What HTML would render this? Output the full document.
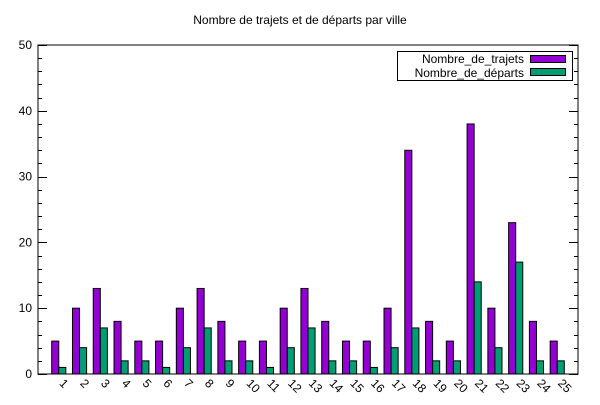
<!DOCTYPE html>
<html><head><meta charset="utf-8"><style>
body{margin:0;background:#fff}
svg text{font-family:"Liberation Sans",sans-serif;font-size:12px;fill:#000}
</style></head><body>
<svg width="600" height="400" xmlns="http://www.w3.org/2000/svg">
<text x="300" y="24" text-anchor="middle">Nombre de trajets et de départs par ville</text>
<g id="axes"></g>
<g id="bars"></g>
<rect x="38" y="45" width="540" height="329" fill="none" stroke="#000" stroke-width="1"/>
<g>
<rect x="397.5" y="51.5" width="175" height="29" fill="#fff" stroke="#000"/>
<text x="524" y="63" text-anchor="end">Nombre_de_trajets</text>
<rect x="530.5" y="55.5" width="35" height="7" fill="#9400d3" stroke="#000"/>
<text x="524" y="77" text-anchor="end">Nombre_de_départs</text>
<rect x="530.5" y="68.5" width="35" height="7" fill="#009e73" stroke="#000"/>
</g>
</svg>
<script>
const categories=["1","2","3","4","5","6","7","8","9","10","11","12","13","14","15","16","17","18","19","20","21","22","23","24","25"];
const trajets=[5,10,13,8,5,5,10,13,8,5,5,10,13,8,5,5,10,34,8,5,38,10,23,8,5];
const departs=[1,4,7,2,2,1,4,7,2,2,1,4,7,2,2,1,4,7,2,2,14,4,17,2,2];
const yTicks=[0,10,20,30,40,50];
const NS="http://www.w3.org/2000/svg";
const X0=38,X1=578,Y0=374,Y1=45;
const xs=v=>X0+(X1-X0)*v/26;
const ys=v=>Y0-(Y0-Y1)*v/50;
const axes=document.getElementById('axes'),bars=document.getElementById('bars');
function mk(t,a,p){const e=document.createElementNS(NS,t);for(const k in a)e.setAttribute(k,a[k]);p.appendChild(e);return e;}
for(let v=0;v<=50;v+=2){const y=Math.round(ys(v))+0.5;const L=v%10===0?9:4;
const a=mk('line',{x1:X0,x2:X0+L,y1:y,y2:y,stroke:'#000'},axes);

const b=mk('line',{x1:X1-L,x2:X1,y1:y,y2:y,stroke:'#000'},axes);
}
yTicks.forEach(v=>{const t=mk('text',{x:X0-6,y:ys(v)+4,'text-anchor':'end'},axes);t.textContent=v;
});
categories.forEach((c,i)=>{const cx=xs(i+1);
const t=mk('text',{x:0,y:0,'text-anchor':'start',transform:`translate(${cx},${Y0+10}) rotate(45)`},axes);t.textContent=c;

const w=(X1-X0)/26*0.34;
const r1=mk('rect',{x:cx-w,y:ys(trajets[i]),width:w,height:Y0-ys(trajets[i]),fill:'#9400d3',stroke:'#000'},bars);

const r2=mk('rect',{x:cx,y:ys(departs[i]),width:w,height:Y0-ys(departs[i]),fill:'#009e73',stroke:'#000'},bars);
});
</script>
</body></html>
